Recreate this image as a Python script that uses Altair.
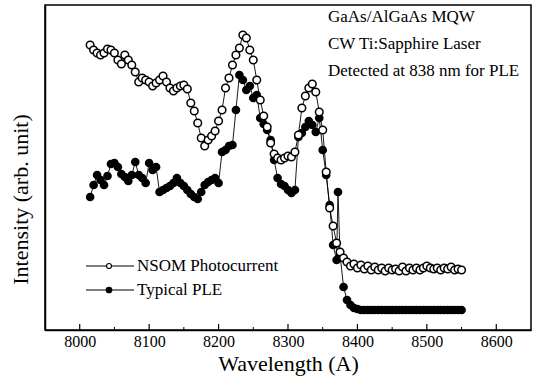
import altair as alt
import pandas as pd

# ---------------- data ----------------
nsom_wavelength = [
    8015, 8020, 8025, 8030, 8035, 8040, 8045, 8050, 8055, 8060,
    8065, 8070, 8075, 8080, 8085, 8090, 8095, 8100, 8105, 8110,
    8115, 8120, 8125, 8130, 8135, 8140, 8145, 8150, 8155, 8160,
    8165, 8170, 8175, 8180, 8185, 8190, 8195, 8200, 8205, 8210,
    8215, 8220, 8225, 8230, 8235, 8240, 8245, 8250, 8255, 8260,
    8265, 8270, 8275, 8280, 8285, 8290, 8295, 8300, 8305, 8310,
    8315, 8320, 8325, 8330, 8335, 8340, 8345, 8350, 8355, 8360,
    8365, 8370, 8375, 8380, 8385, 8390, 8395, 8400, 8405, 8410,
    8415, 8420, 8425, 8430, 8435, 8440, 8445, 8450, 8455, 8460,
    8465, 8470, 8475, 8480, 8485, 8490, 8495, 8500, 8505, 8510,
    8515, 8520, 8525, 8530, 8535, 8540, 8545, 8550,
]
nsom_intensity = [
    285, 280, 277, 275, 277, 281, 280, 277, 270, 266,
    275, 270, 265, 258, 248, 252, 250, 248, 244, 247,
    250, 254, 248, 242, 239, 242, 244, 245, 241, 227,
    219, 207, 192, 184, 190, 194, 199, 209, 220, 242,
    252, 265, 275, 282, 295, 292, 280, 270, 250, 230,
    214, 203, 187, 176, 172, 170, 172, 174, 173, 178,
    195, 222, 234, 242, 246, 238, 218, 200, 158, 122,
    104, 87, 78, 72, 68, 64, 66, 62, 65, 61,
    64, 60, 63, 60, 62, 59, 62, 60, 61, 59,
    63, 59, 62, 60, 62, 60, 62, 64, 62, 61,
    62, 60, 62, 61, 63, 60, 61, 60,
]
ple_wavelength = [
    8015, 8020, 8025, 8030, 8035, 8040, 8045, 8050, 8055, 8060,
    8065, 8070, 8075, 8080, 8085, 8090, 8095, 8100, 8105, 8110,
    8115, 8120, 8125, 8130, 8135, 8140, 8145, 8150, 8155, 8160,
    8165, 8170, 8175, 8180, 8185, 8190, 8195, 8200, 8205, 8210,
    8215, 8220, 8225, 8230, 8235, 8240, 8245, 8250, 8255, 8260,
    8265, 8270, 8275, 8280, 8285, 8290, 8295, 8300, 8305, 8310,
    8315, 8320, 8325, 8330, 8335, 8340, 8345, 8350, 8355, 8360,
    8365, 8370, 8372, 8375, 8380, 8385, 8390, 8395, 8400,
    8405, 8410, 8415, 8420, 8425, 8430, 8435, 8440, 8445, 8450,
    8455, 8460, 8465, 8470, 8475, 8480, 8485, 8490, 8495, 8500,
    8505, 8510, 8515, 8520, 8525, 8530, 8535, 8540, 8545, 8550,
]
ple_intensity = [
    133, 145, 155, 150, 145, 154, 166, 167, 163, 156,
    153, 149, 155, 168, 155, 152, 147, 167, 160, 163,
    138, 140, 142, 144, 147, 152, 147, 144, 140, 136,
    133, 131, 138, 145, 148, 150, 152, 147, 178, 180,
    184, 185, 220, 255, 250, 240, 244, 232, 235, 212,
    206, 200, 190, 170, 152, 146, 144, 140, 137, 140,
    193, 197, 203, 209, 205, 198, 212, 180, 155, 125,
    85, 70, 138, 75, 43, 30, 25, 22, 21,
    20, 20, 20, 20, 20, 20, 20, 20, 20, 20,
    20, 20, 20, 20, 20, 20, 20, 20, 20, 20,
    20, 20, 20, 20, 20, 20, 20, 20, 20, 20,
]
major_ticks = [8000, 8100, 8200, 8300, 8400, 8500, 8600]
minor_ticks = [8050, 8150, 8250, 8350, 8450, 8550]
annotation_lines = ["GaAs/AlGaAs MQW", "CW Ti:Sapphire Laser", "Detected at 838 nm for PLE"]
legend_labels = ["NSOM Photocurrent", "Typical PLE"]

# ---------------- layout ----------------
FONT = "Liberation Serif"
W, H = 486, 325

x_scale = alt.Scale(domain=[7950, 8650], nice=False, zero=False)
y_scale = alt.Scale(domain=[0, 325], nice=False)

nsom = pd.DataFrame({"wavelength": nsom_wavelength, "intensity": nsom_intensity})
ple = pd.DataFrame({"wavelength": ple_wavelength, "intensity": ple_intensity})
major_df = pd.DataFrame({"wavelength": major_ticks})
minor_df = pd.DataFrame({"wavelength": minor_ticks})

x_axis = alt.Axis(
    title="Wavelength (A)", values=major_ticks, format="d", ticks=False, grid=False,
    labelFont=FONT, labelFontSize=16, labelPadding=3, labelColor="black",
    titleFont=FONT, titleFontSize=22, titleFontWeight="normal", titleColor="black",
    titlePadding=4, domainColor="black", domainWidth=1.5,
)
y_axis = alt.Axis(
    title="Intensity (arb. unit)", labels=False, ticks=False, grid=False,
    titleFont=FONT, titleFontSize=22, titleFontWeight="normal", titleColor="black",
    titlePadding=13, titleY=194, domainColor="black", domainWidth=1.5,
)

x_enc = alt.X("wavelength:Q", scale=x_scale, axis=x_axis)
y_enc = alt.Y("intensity:Q", scale=y_scale, axis=y_axis)

ple_line = alt.Chart(ple).mark_line(color="black", strokeWidth=0.9).encode(x=x_enc, y=y_enc)
ple_pts = alt.Chart(ple).mark_point(
    shape="circle", filled=True, color="black", size=75, opacity=1
).encode(x="wavelength:Q", y="intensity:Q")

nsom_line = alt.Chart(nsom).mark_line(color="black", strokeWidth=0.9).encode(
    x="wavelength:Q", y="intensity:Q")
nsom_pts = alt.Chart(nsom).mark_point(
    shape="circle", filled=True, fill="white", stroke="black", strokeWidth=1.5,
    size=58, opacity=1
).encode(x="wavelength:Q", y="intensity:Q")

major_rules = alt.Chart(major_df).mark_rule(color="black", strokeWidth=1.2).encode(
    x="wavelength:Q", y=alt.value(H), y2=alt.value(H - 6))
minor_rules = alt.Chart(minor_df).mark_rule(color="black", strokeWidth=1).encode(
    x="wavelength:Q", y=alt.value(H), y2=alt.value(H - 3))

layers = [ple_line, ple_pts, nsom_line, nsom_pts, major_rules, minor_rules]

# annotation text (top right)
for i, line in enumerate(annotation_lines):
    layers.append(
        alt.Chart(pd.DataFrame({"t": [line]})).mark_text(
            font=FONT, fontSize=17, align="left", baseline="middle", color="black"
        ).encode(text="t:N", x=alt.value(283), y=alt.value(12 + i * 27))
    )

# hand-drawn legend (bottom left)
legend_y = [261, 285]
for i, lab in enumerate(legend_labels):
    yy = legend_y[i]
    layers.append(
        alt.Chart(pd.DataFrame({"t": [lab]})).mark_rule(color="black", strokeWidth=1).encode(
            x=alt.value(41), x2=alt.value(89), y=alt.value(yy))
    )
    if i == 0:
        marker = alt.Chart(pd.DataFrame({"t": [lab]})).mark_point(
            shape="circle", filled=True, fill="white", stroke="black", strokeWidth=1.2,
            size=25, opacity=1)
    else:
        marker = alt.Chart(pd.DataFrame({"t": [lab]})).mark_point(
            shape="circle", filled=True, color="black", size=45, opacity=1)
    layers.append(marker.encode(x=alt.value(64), y=alt.value(yy)))
    layers.append(
        alt.Chart(pd.DataFrame({"t": [lab]})).mark_text(
            font=FONT, fontSize=17, align="left", baseline="middle", color="black"
        ).encode(text="t:N", x=alt.value(92), y=alt.value(yy))
    )

chart = alt.layer(*layers).properties(
    width=W, height=H,
    padding={"left": 45, "top": 5, "right": 10, "bottom": 54},
    autosize="none",
    background="white",
).configure_view(stroke="black", strokeWidth=1.5)

chart.save("out.html", embed_options={"renderer": "svg", "actions": False})
